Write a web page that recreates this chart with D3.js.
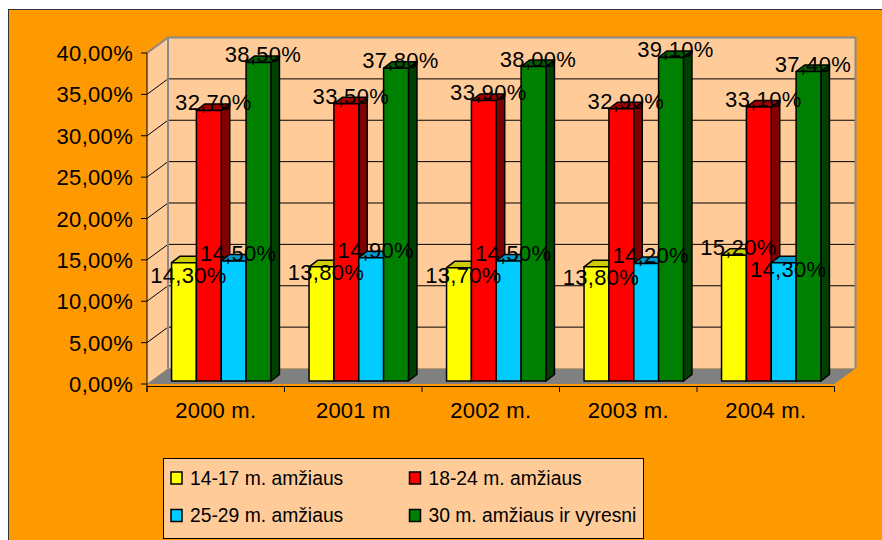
<!DOCTYPE html>
<html><head><meta charset="utf-8">
<script src="https://cdn.jsdelivr.net/npm/d3@7"></script>
<style>html,body{margin:0;padding:0;background:#fff}svg{display:block}text{font-family:"Liberation Sans",Arial,sans-serif}</style>
</head><body>
<script>
const categories = ["2000 m.", "2001 m", "2002 m.", "2003 m.", "2004 m."];
const seriesNames = ["14-17 m. amžiaus", "18-24 m. amžiaus", "25-29 m. amžiaus", "30 m. amžiaus ir vyresni"];
const s1417 = [14.3, 13.8, 13.7, 13.8, 15.2];
const s1824 = [32.7, 33.5, 33.9, 32.9, 33.1];
const s2529 = [14.5, 14.9, 14.5, 14.2, 14.3];
const s30 = [38.5, 37.8, 38.0, 39.1, 37.4];
const yTicks = [0, 5, 10, 15, 20, 25, 30, 35, 40];

const seriesValues = [s1417, s1824, s2529, s30];
const colors = [
  {front:"#FFFF00", top:"#CCCC00", side:"#999900"},
  {front:"#FF0000", top:"#A00000", side:"#800000"},
  {front:"#00CCFF", top:"#0099CC", side:"#007399"},
  {front:"#008000", top:"#006000", side:"#004000"}
];

const W = 882, H = 540;
const svg = d3.select("body").append("svg").attr("width", W).attr("height", H);

svg.append("rect").attr("x", 8.5).attr("y", 9.5).attr("width", W).attr("height", H)
  .attr("fill", "#FF9900").attr("stroke", "#333").attr("stroke-width", 1);

const DX = 21, DY = -15.5;
const BX = 5.5, BY = -3;
const BDX = 8.5, BDY = -6.5;

const x0 = d3.scaleBand().domain(categories).range([147, 834.5]).padding(0);
const groupW = 99.4;
const x1 = d3.scaleBand().domain(d3.range(4)).range([0, groupW]).padding(0);
const y = d3.scaleLinear().domain([0, 40]).range([384, 53]);

const xL = 147, xR = 834.5, yB = y(0), yT = y(40);

svg.append("path").attr("d", `M${xL},${yB}L${xL},${yT}L${xL+DX},${yT+DY}L${xL+DX},${yB+DY}Z`)
  .attr("fill", "#FFCC99");
svg.append("rect").attr("x", xL+DX).attr("y", yT+DY).attr("width", xR-xL).attr("height", yB-yT)
  .attr("fill", "#FFCC99");
const grid = svg.append("g");
yTicks.filter(t => t > 0 && t < 40).forEach(t => {
  grid.append("line").attr("x1", xL+DX).attr("x2", xR+DX).attr("y1", y(t)+DY).attr("y2", y(t)+DY)
    .attr("stroke", "#000").attr("stroke-width", 1);
});
yTicks.filter(t => t > 0).forEach(t => {
  grid.append("line").attr("x1", xL).attr("y1", y(t)).attr("x2", xL+DX).attr("y2", y(t)+DY)
    .attr("stroke", "#000").attr("stroke-width", 1);
});
svg.append("path").attr("d", `M${xL+DX},${yB+DY}L${xL+DX},${yT+DY}L${xR+DX},${yT+DY}L${xR+DX},${yB+DY}`)
  .attr("fill", "none").attr("stroke", "#8a8a8a").attr("stroke-width", 2);
svg.append("line").attr("x1", xL).attr("y1", yT).attr("x2", xL+DX).attr("y2", yT+DY)
  .attr("stroke", "#8a8a8a").attr("stroke-width", 2);
svg.append("path").attr("d", `M${xL},${yB}L${xL+DX},${yB+DY}L${xR+DX},${yB+DY}L${xR},${yB}Z`)
  .attr("fill", "#808080");

const barsG = svg.append("g");
categories.forEach((c, ci) => {
  const gx = x0(c) + BX + (x0.bandwidth() - groupW) / 2;
  seriesValues.forEach((vals, si) => {
    const v = vals[ci];
    const bx = gx + x1(si), bw = x1.bandwidth();
    const yt = y(v) + BY, yb = y(0) + BY;
    const col = colors[si];
    const g = barsG.append("g").attr("stroke", "#000").attr("stroke-width", 1.5).attr("stroke-linejoin", "round");
    g.append("path").attr("d", `M${bx+bw},${yb}L${bx+bw+BDX},${yb+BDY}L${bx+bw+BDX},${yt+BDY}L${bx+bw},${yt}Z`)
      .attr("fill", col.side);
    g.append("path").attr("d", `M${bx},${yt}L${bx+BDX},${yt+BDY}L${bx+bw+BDX},${yt+BDY}L${bx+bw},${yt}Z`)
      .attr("fill", col.top);
    g.append("rect").attr("x", bx).attr("y", yt).attr("width", bw).attr("height", yb - yt)
      .attr("fill", col.front);
  });
});

const ax = svg.append("g").attr("stroke", "#000").attr("stroke-width", 1);
ax.append("line").attr("x1", xL).attr("x2", xL).attr("y1", yT).attr("y2", yB + 8);
ax.append("line").attr("x1", xL).attr("x2", xR).attr("y1", yB + 2.5).attr("y2", yB + 2.5);
yTicks.forEach(t => ax.append("line").attr("x1", xL - 6).attr("x2", xL).attr("y1", y(t)).attr("y2", y(t)));
categories.concat([null]).forEach((c, i) => {
  const xx = c ? x0(c) : xR;
  ax.append("line").attr("x1", xx).attr("x2", xx).attr("y1", yB + 2.5).attr("y2", yB + 8);
});

const fmt = v => d3.format(".2f")(v).replace(".", ",") + "%";

svg.append("g").selectAll("text").data(yTicks).join("text")
  .attr("x", 133).attr("y", d => y(d) + 8).attr("text-anchor", "end")
  .attr("font-size", 22).attr("letter-spacing", 0.3).text(d => fmt(d));

svg.append("g").selectAll("text").data(categories).join("text")
  .attr("x", d => x0(d) + x0.bandwidth() / 2).attr("y", 417.5).attr("text-anchor", "middle")
  .attr("font-size", 22).attr("letter-spacing", 0.2).text(d => d);

const labels = [];
categories.forEach((c, ci) => {
  const gx = x0(c) + BX + (x0.bandwidth() - groupW) / 2;
  seriesValues.forEach((vals, si) => {
    const v = vals[ci];
    labels.push({v, cx: gx + x1(si) + x1.bandwidth() / 2 + 4.5, base: y(v) + BY});
  });
});
const lg = svg.append("g");
labels.forEach(l => {
  l.node = lg.append("text").attr("text-anchor", "middle").attr("font-size", 22)
    .attr("letter-spacing", 0.3).text(fmt(l.v));
  l.w = l.node.node().getComputedTextLength() + 3;
});
const placed = [];
labels.slice().sort((a, b) => b.v - a.v).forEach(l => {
  let moved = true, guard = 0;
  while (moved && guard++ < 20) {
    moved = false;
    for (const p of placed) {
      const ox = Math.abs(l.cx - p.cx) < (l.w + p.w) / 2;
      const oy = Math.abs(l.base - p.base) < 17;
      if (ox && oy) { l.base = p.base + 22; moved = true; }
    }
  }
  placed.push(l);
});
labels.forEach(l => l.node.attr("x", l.cx).attr("y", l.base));

const leg = svg.append("g");
leg.append("rect").attr("x", 163.5).attr("y", 458.5).attr("width", 480).attr("height", 80)
  .attr("fill", "#FFCC99").attr("stroke", "#000").attr("stroke-width", 1);
const legPos = [[171, 472], [409.5, 472], [171, 509.5], [409.5, 509.5]];
seriesNames.forEach((n, i) => {
  const [lx, ly] = legPos[i];
  leg.append("rect").attr("x", lx).attr("y", ly).attr("width", 11).attr("height", 12)
    .attr("fill", colors[i].front).attr("stroke", "#000").attr("stroke-width", 1.5);
  leg.append("text").attr("x", lx + 19).attr("y", ly + 12.5).attr("font-size", 19.3).text(n);
});
</script>
</body></html>
